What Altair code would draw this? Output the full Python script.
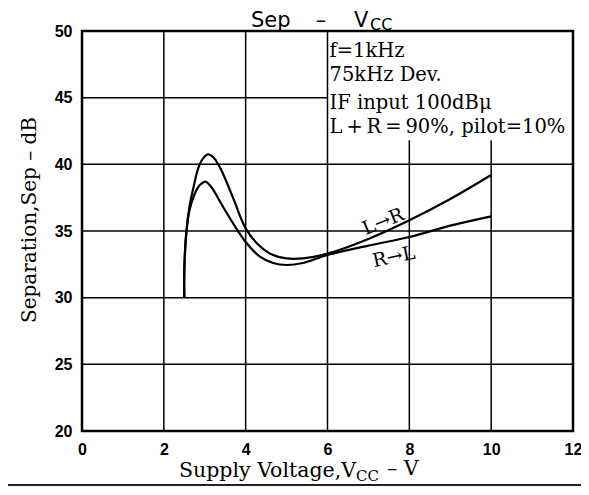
import altair as alt
import pandas as pd

# ---- data ----
x_ticks = [0, 2, 4, 6, 8, 10, 12]
y_ticks = [20, 25, 30, 35, 40, 45, 50]

# grid segments (the note box hides part of the grid)
vgrid_x = [2, 4, 6, 8, 10]
vgrid_top = [50, 50, 50, 41.8, 41.8]
hgrid_y = [25, 30, 35, 40, 45]
hgrid_right = [12, 12, 12, 12, 6]

# curves
lr_v = [2.50, 2.50, 2.55, 2.63, 2.72, 2.84, 2.96, 3.08, 3.22, 3.40, 3.69, 4.00, 4.30, 4.60, 5.00, 5.40, 6.00, 7.00, 8.00, 9.00, 10.0]
lr_db = [30.0, 32.0, 34.9, 36.9, 38.2, 39.7, 40.45, 40.75, 40.5, 39.6, 37.5, 35.2, 34.0, 33.3, 32.95, 32.95, 33.3, 34.4, 35.8, 37.4, 39.2]
rl_v = [2.50, 2.50, 2.55, 2.63, 2.72, 2.82, 2.92, 3.02, 3.16, 3.45, 3.77, 4.02, 4.34, 4.67, 5.00, 5.40, 6.00, 7.00, 8.00, 9.00, 10.0]
rl_db = [30.0, 32.0, 34.9, 36.6, 37.5, 38.2, 38.55, 38.7, 38.3, 36.8, 35.2, 34.1, 33.1, 32.6, 32.45, 32.6, 33.2, 33.9, 34.55, 35.4, 36.1]

curve_labels = ["L→R", "R→L"]
curve_label_v = [7.36, 7.62]
curve_label_db = [35.7, 33.05]
curve_label_angle = [338, 348]

notes = ["f=1kHz", "75kHz Dev.", "IF input 100dBμ",
         "L\u2009+\u2009R\u2009=\u200990%, pilot=10%"]
notes_v = [6.05, 6.05, 6.05, 6.05]
notes_db = [48.5, 46.7, 44.6, 42.8]

# ---- tables ----
curves = pd.concat([
    pd.DataFrame({"v": lr_v, "db": lr_db, "s": "L→R", "i": range(len(lr_v))}),
    pd.DataFrame({"v": rl_v, "db": rl_db, "s": "R→L", "i": range(len(rl_v))}),
])
vgrid = pd.DataFrame({"x": vgrid_x, "y1": [20] * len(vgrid_x), "y2": vgrid_top})
hgrid = pd.DataFrame({"y": hgrid_y, "x1": [0] * len(hgrid_y), "x2": hgrid_right})
lab = pd.DataFrame({"t": curve_labels, "v": curve_label_v, "db": curve_label_db, "a": curve_label_angle})
note_df = pd.DataFrame({"t": notes, "v": notes_v, "db": notes_db})

xs = alt.Scale(domain=[0, 12], nice=False, zero=False)
ys = alt.Scale(domain=[20, 50], nice=False, zero=False)

tick_font = "Liberation Sans"
serif = "DejaVu Serif"

xaxis = alt.Axis(values=x_ticks, grid=False, ticks=False, domain=False, title=None,
                 labelFont=tick_font, labelFontWeight="bold", labelFontSize=16,
                 labelColor="black", labelPadding=10, labelFlush=False)
yaxis = alt.Axis(values=y_ticks, grid=False, ticks=False, domain=False, title=None,
                 labelFont=tick_font, labelFontWeight="bold", labelFontSize=16,
                 labelColor="black", labelPadding=10, labelFlush=False)

vrules = alt.Chart(vgrid).mark_rule(color="black", strokeWidth=1.5).encode(
    x=alt.X("x:Q", scale=xs, axis=xaxis),
    y=alt.Y("y1:Q", scale=ys, axis=yaxis),
    y2="y2:Q",
)
hrules = alt.Chart(hgrid).mark_rule(color="black", strokeWidth=1.5).encode(
    y=alt.Y("y:Q", scale=ys),
    x=alt.X("x1:Q", scale=xs),
    x2="x2:Q",
)
lines = alt.Chart(curves).mark_line(color="black", strokeWidth=2.2, interpolate="catmull-rom").encode(
    x=alt.X("v:Q", scale=xs),
    y=alt.Y("db:Q", scale=ys),
    detail="s:N",
    order="i:Q",
)
labels = alt.Chart(lab).mark_text(font=serif, fontSize=19, color="black").encode(
    x=alt.X("v:Q", scale=xs),
    y=alt.Y("db:Q", scale=ys),
    text="t:N",
    angle=alt.Angle("a:Q", scale=None),
)
note_text = alt.Chart(note_df).mark_text(font=serif, fontSize=19.5, color="black",
                                         align="left", baseline="middle").encode(
    x=alt.X("v:Q", scale=xs),
    y=alt.Y("db:Q", scale=ys),
    text="t:N",
)

one = pd.DataFrame({"k": [0]})


def ptext(txt, x, y, size, font, align="left", angle=0, baseline="alphabetic"):
    kw = dict(font=font, fontSize=size, color="black", align=align, baseline=baseline, text=txt)
    if angle:
        kw["angle"] = angle
    return alt.Chart(one).mark_text(**kw).encode(x=alt.value(x), y=alt.value(y))


title_parts = [
    ptext("Sep", 169, -4, 21, "DejaVu Sans"),
    ptext("–", 239, -4, 21, "DejaVu Sans", align="center"),
    ptext("V", 272, -4, 21, "DejaVu Sans"),
    ptext("CC", 288, -1, 16, "DejaVu Sans"),
]
xtitle_parts = [
    ptext("Supply Voltage,V", 97, 446, 20.5, serif),
    ptext("CC", 274, 450, 15, serif),
    ptext("– V", 305, 444, 20.5, serif),
]
ytitle = ptext("Separation,Sep – dB", -52, 189, 20, serif, align="center", angle=270, baseline="middle")

bottom_rule = alt.Chart(one).mark_rule(color="#222222", strokeWidth=2).encode(
    x=alt.value(-74), x2=alt.value(507), y=alt.value(454)
)

chart = alt.layer(
    vrules, hrules, lines, labels, note_text, *title_parts, *xtitle_parts, ytitle, bottom_rule
).properties(
    width=491, height=400,
    padding={"left": 74, "top": 23, "right": 8, "bottom": 55},
    autosize=alt.AutoSizeParams(type="none"),
    background="white",
).configure_view(stroke="black", strokeWidth=2.5)

chart.save("out.html", embed_options={"renderer": "svg", "actions": False})
